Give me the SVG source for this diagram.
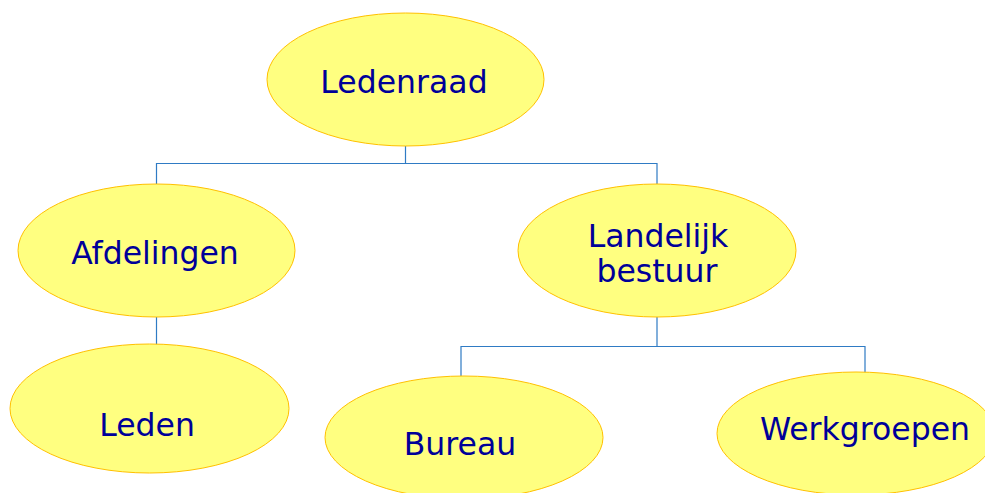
<svg xmlns="http://www.w3.org/2000/svg" width="985" height="493" viewBox="0 0 985 493">
<style>
.node ellipse{fill:#FFFF80;stroke:#FFC000;stroke-width:1}
.node text{font-family:"DejaVu Sans",Verdana,sans-serif;font-size:31.5px;fill:#000099;text-anchor:middle}
.conn path{fill:none;stroke:#2F7BC4;stroke-width:1.2}
</style>
<rect width="985" height="493" fill="#FFFFFF"/>
<g class="conn" id="connectors">
<path d="M405.5,146 V163.5 H156.5 V184"/>
<path d="M405.5,163.5 H657 V184"/>
<path d="M156.5,317 V345"/>
<path d="M657,317 V346.5 H461 V376"/>
<path d="M657,346.5 H865 V373"/>
</g>
<g class="node" id="ledenraad">
<ellipse cx="405.5" cy="79.5" rx="138.5" ry="66.5"/>
<text x="404" y="93">Ledenraad</text>
</g>
<g class="node" id="afdelingen">
<ellipse cx="156.5" cy="250.5" rx="138.5" ry="66.5"/>
<text x="155" y="264">Afdelingen</text>
</g>
<g class="node" id="landelijk">
<ellipse cx="657" cy="250.5" rx="139" ry="66.5"/>
<text x="658" y="247">Landelijk</text>
<text x="657" y="282">bestuur</text>
</g>
<g class="node" id="leden">
<ellipse cx="149.5" cy="408.5" rx="139.5" ry="64.5"/>
<text x="147" y="436">Leden</text>
</g>
<g class="node" id="bureau">
<ellipse cx="464" cy="437.5" rx="139" ry="61.5"/>
<text x="460" y="455">Bureau</text>
</g>
<g class="node" id="werkgroepen">
<ellipse cx="856" cy="433.5" rx="139" ry="61.5"/>
<text x="865" y="440">Werkgroepen</text>
</g>
</svg>
